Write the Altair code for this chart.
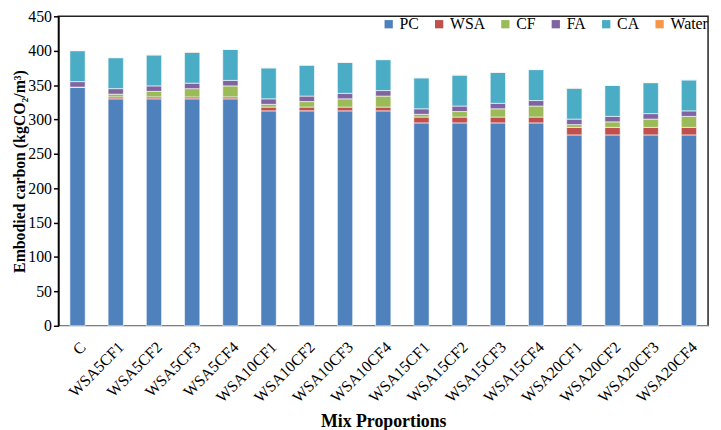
import altair as alt
import pandas as pd

mixes = ["C", "WSA5CF1", "WSA5CF2", "WSA5CF3", "WSA5CF4",
         "WSA10CF1", "WSA10CF2", "WSA10CF3", "WSA10CF4",
         "WSA15CF1", "WSA15CF2", "WSA15CF3", "WSA15CF4",
         "WSA20CF1", "WSA20CF2", "WSA20CF3", "WSA20CF4"]
components = ["PC", "WSA", "CF", "FA", "CA", "Water"]
colors = ["#4F81BD", "#C0504D", "#9BBB59", "#8064A2", "#4BACC6", "#F79646"]

pc = [347, 330, 330, 330, 330, 312.5, 312.5, 312.5, 312.5,
      295, 295, 295, 295, 277.5, 277.5, 277.5, 277.5]
wsa = [0, 2.8, 2.8, 2.8, 2.8, 5.5, 5.5, 5.5, 5.5,
       8.5, 8.5, 8.5, 8.5, 11, 11, 11, 11]
cf = [0, 4, 8, 12, 16, 4, 8, 12, 16, 4, 8, 12, 16, 4, 8, 12, 16]
fa = [8] * 17
ca = [45] * 17
water = [0.3] * 17

series = {"PC": pc, "WSA": wsa, "CF": cf, "FA": fa, "CA": ca, "Water": water}

rows = []
for comp_i, comp in enumerate(components):
    for mix, v in zip(mixes, series[comp]):
        rows.append({"Mix": mix, "Component": comp, "Value": v, "ord": comp_i})
df = pd.DataFrame(rows)

serif = "Liberation Serif"

chart = alt.Chart(df).mark_bar(stroke="white", strokeWidth=0.6).encode(
    x=alt.X("Mix:N", sort=mixes,
            scale=alt.Scale(paddingInner=0.6, paddingOuter=0.3),
            axis=alt.Axis(title="Mix Proportions", labelAngle=-45, labelAlign="right",
                          labelBaseline="top", labelPadding=13, ticks=False,
                          domainColor="#d9d9d9", domainWidth=1.5,
                          labelFont=serif, labelFontSize=16, labelColor="black",
                          titleFont=serif, titleFontSize=18, titleFontWeight="bold",
                          titleColor="black", titlePadding=8)),
    y=alt.Y("Value:Q", stack="zero",
            scale=alt.Scale(domain=[0, 450], nice=False),
            axis=alt.Axis(title="Embodied carbon (kgCO₂/m³)", values=list(range(0, 451, 50)),
                          grid=False, domainColor="black", domainWidth=1.5,
                          tickColor="black", tickSize=5, tickWidth=1.5,
                          labelFont=serif, labelFontSize=16, labelColor="black",
                          labelPadding=2,
                          titleFont=serif, titleFontSize=16, titleFontWeight="bold",
                          titleColor="black", titlePadding=0)),
    color=alt.Color("Component:N", sort=components,
                    scale=alt.Scale(domain=components, range=colors),
                    legend=alt.Legend(title=None, orient="top-right", offset=0,
                                      direction="horizontal",
                                      symbolType="square", symbolSize=70, symbolStrokeWidth=0,
                                      labelFont=serif, labelFontSize=16, labelColor="black",
                                      columnPadding=12, labelOffset=3)),
    order=alt.Order("ord:Q", sort="ascending"),
).properties(
    width=657, height=313,
    autosize=alt.AutoSizeParams(type="none"),
    padding={"left": 51, "top": 6, "right": 5, "bottom": 103},
).configure_view(
    stroke="#222222", strokeWidth=1.5
)

chart.save("out.html", embed_options={"renderer": "svg", "actions": False})
